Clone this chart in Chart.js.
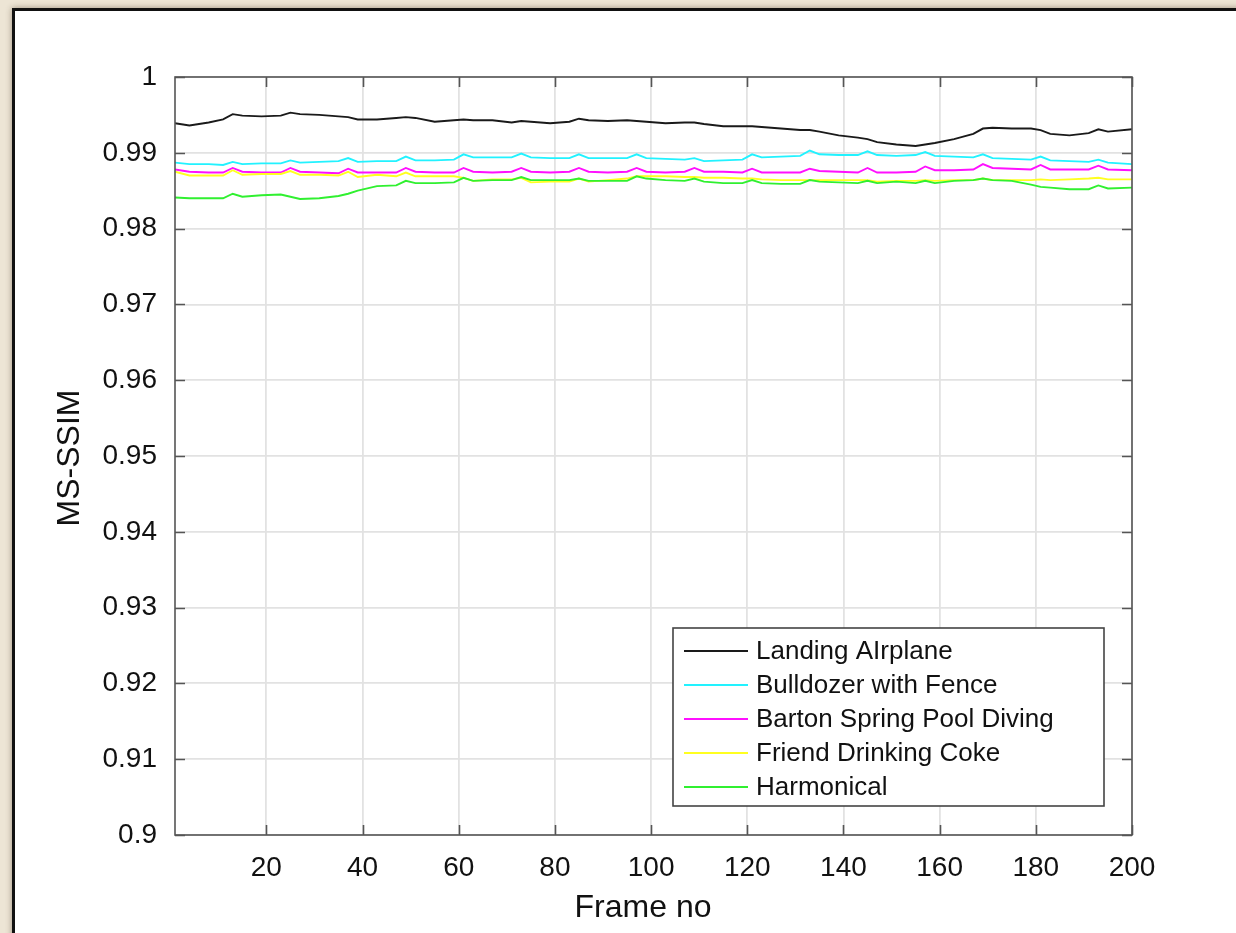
<!DOCTYPE html>
<html><head><meta charset="utf-8">
<script src="https://cdn.jsdelivr.net/npm/chart.js@4/dist/chart.umd.min.js"></script>
<style>
html,body{margin:0;padding:0;width:1236px;height:933px;overflow:hidden;background:#ede5d5}
#card{position:absolute;left:12px;top:8px;width:1250px;height:960px;background:#fff;border:3px solid #111;box-shadow:0 0 6px rgba(60,40,20,.45)}
#wrap{position:absolute;left:0;top:0;width:1236px;height:933px}
</style></head>
<body>
<div id="card"></div>
<div id="wrap"><canvas id="c" width="1236" height="933"></canvas></div>
<script>
const frames = [1,4,8,11,13,15,19,23,25,27,31,35,37,39,43,47,49,51,55,59,61,63,67,71,73,75,79,83,85,87,91,95,97,99,103,107,109,111,115,119,121,123,127,131,133,135,139,143,145,147,151,155,157,159,163,167,169,171,175,179,181,183,187,191,193,195,200];

const landingAirplane = [0.9939,0.9936,0.9940,0.9944,0.9951,0.9949,0.9948,0.9949,0.9953,0.9951,0.9950,0.9948,0.9947,0.9944,0.9944,0.9946,0.9947,0.9946,0.9941,0.9943,0.9944,0.9943,0.9943,0.9940,0.9942,0.9941,0.9939,0.9941,0.9945,0.9943,0.9942,0.9943,0.9942,0.9941,0.9939,0.9940,0.9940,0.9938,0.9935,0.9935,0.9935,0.9934,0.9932,0.9930,0.9930,0.9928,0.9923,0.9920,0.9918,0.9914,0.9911,0.9909,0.9911,0.9913,0.9918,0.9925,0.9932,0.9933,0.9932,0.9932,0.9930,0.9925,0.9923,0.9926,0.9931,0.9928,0.9931];

const bulldozer = [0.9887,0.9885,0.9885,0.9884,0.9888,0.9885,0.9886,0.9886,0.9890,0.9887,0.9888,0.9889,0.9893,0.9888,0.9889,0.9889,0.9895,0.9890,0.9890,0.9891,0.9898,0.9894,0.9894,0.9894,0.9899,0.9894,0.9893,0.9893,0.9898,0.9893,0.9893,0.9893,0.9898,0.9893,0.9892,0.9891,0.9893,0.9889,0.9890,0.9891,0.9898,0.9894,0.9895,0.9896,0.9903,0.9898,0.9897,0.9897,0.9902,0.9897,0.9896,0.9897,0.9901,0.9896,0.9895,0.9894,0.9898,0.9893,0.9892,0.9891,0.9895,0.9890,0.9889,0.9888,0.9891,0.9887,0.9885];

const bartonSpring = [0.9878,0.9875,0.9874,0.9874,0.9880,0.9875,0.9874,0.9874,0.9880,0.9875,0.9874,0.9873,0.9879,0.9874,0.9874,0.9874,0.9880,0.9875,0.9874,0.9874,0.9880,0.9875,0.9874,0.9875,0.9880,0.9875,0.9874,0.9875,0.9880,0.9875,0.9874,0.9875,0.9880,0.9875,0.9874,0.9875,0.9880,0.9875,0.9875,0.9874,0.9879,0.9874,0.9874,0.9874,0.9879,0.9876,0.9875,0.9874,0.9880,0.9874,0.9874,0.9875,0.9882,0.9877,0.9877,0.9878,0.9885,0.9880,0.9879,0.9878,0.9884,0.9878,0.9878,0.9878,0.9883,0.9878,0.9877];

const friendCoke = [0.9875,0.9870,0.9870,0.9870,0.9877,0.9871,0.9872,0.9872,0.9876,0.9871,0.9871,0.9870,0.9875,0.9868,0.9871,0.9869,0.9874,0.9869,0.9869,0.9869,0.9867,0.9863,0.9865,0.9865,0.9867,0.9861,0.9862,0.9862,0.9866,0.9862,0.9864,0.9866,0.9869,0.9869,0.9869,0.9868,0.9868,0.9867,0.9867,0.9866,0.9866,0.9865,0.9864,0.9864,0.9864,0.9864,0.9864,0.9864,0.9864,0.9862,0.9863,0.9863,0.9864,0.9863,0.9864,0.9864,0.9866,0.9864,0.9864,0.9864,0.9865,0.9864,0.9865,0.9866,0.9867,0.9865,0.9865];

const harmonical = [0.9841,0.9840,0.9840,0.9840,0.9846,0.9842,0.9844,0.9845,0.9842,0.9839,0.9840,0.9843,0.9846,0.9850,0.9856,0.9857,0.9863,0.9860,0.9860,0.9861,0.9867,0.9863,0.9864,0.9864,0.9868,0.9864,0.9864,0.9864,0.9866,0.9863,0.9863,0.9863,0.9869,0.9866,0.9864,0.9863,0.9866,0.9862,0.9860,0.9860,0.9864,0.9860,0.9859,0.9859,0.9864,0.9862,0.9861,0.9860,0.9863,0.9860,0.9862,0.9860,0.9863,0.9860,0.9863,0.9864,0.9866,0.9864,0.9863,0.9858,0.9855,0.9854,0.9852,0.9852,0.9857,0.9853,0.9854];

const seriesNames = ['Landing AIrplane','Bulldozer with Fence','Barton Spring Pool Diving','Friend Drinking Coke','Harmonical'];
const xTicks = [20,40,60,80,100,120,140,160,180,200];
const yTicks = [0.9,0.91,0.92,0.93,0.94,0.95,0.96,0.97,0.98,0.99,1];
const yTickLabels = ['0.9','0.91','0.92','0.93','0.94','0.95','0.96','0.97','0.98','0.99','1'];
const xTitle = 'Frame no';
const yTitle = 'MS-SSIM';

const seriesValues = [landingAirplane, bulldozer, bartonSpring, friendCoke, harmonical];
const seriesColors = ['#1a1a1a','#22f2ff','#ff10ff','#ffff20','#30f030'];

const FONT = "'Liberation Sans', Arial, Helvetica, sans-serif";

const boxPlugin = {
  id: 'boxPlugin',
  afterDraw(chart) {
    const {ctx, chartArea: a, scales} = chart;
    ctx.save();
    ctx.strokeStyle = '#555';
    ctx.lineWidth = 1.6;
    const tl = 10;
    ctx.beginPath();
    xTicks.forEach(v => {
      const px = Math.round(scales.x.getPixelForValue(v)) + 0.5;
      ctx.moveTo(px, a.bottom); ctx.lineTo(px, a.bottom - tl);
      ctx.moveTo(px, a.top); ctx.lineTo(px, a.top + tl);
    });
    yTicks.forEach(v => {
      const py = Math.round(scales.y.getPixelForValue(v)) + 0.5;
      ctx.moveTo(a.left, py); ctx.lineTo(a.left + tl, py);
      ctx.moveTo(a.right, py); ctx.lineTo(a.right - tl, py);
    });
    ctx.stroke();
    ctx.strokeRect(a.left, a.top, a.right - a.left, a.bottom - a.top);

    // axis titles
    ctx.fillStyle = '#111';
    ctx.font = '32px ' + FONT;
    ctx.textAlign = 'center';
    ctx.textBaseline = 'middle';
    ctx.fillText(xTitle, 643, 908);
    ctx.save();
    ctx.translate(70, 458);
    ctx.rotate(-Math.PI / 2);
    ctx.fillText(yTitle, 0, 0);
    ctx.restore();

    // legend inside plot
    const lx = 673, ly = 628, lw = 431, lh = 178;
    ctx.fillStyle = '#fff';
    ctx.fillRect(lx, ly, lw, lh);
    ctx.strokeStyle = '#444';
    ctx.lineWidth = 1.6;
    ctx.strokeRect(lx, ly, lw, lh);
    ctx.font = '26px ' + FONT;
    ctx.textBaseline = 'middle';
    ctx.textAlign = 'left';
    chart.data.datasets.forEach((ds, i) => {
      const cy = 651 + i * 34;
      ctx.strokeStyle = ds.borderColor;
      ctx.lineWidth = 1.8;
      ctx.beginPath();
      ctx.moveTo(684, cy); ctx.lineTo(748, cy);
      ctx.stroke();
      ctx.fillStyle = '#111';
      ctx.fillText(ds.label, 756, cy + 1);
    });
    ctx.restore();
  }
};

new Chart(document.getElementById('c'), {
  type: 'line',
  data: {
    datasets: seriesNames.map((name, i) => ({
      label: name,
      data: frames.map((f, j) => ({x: f, y: seriesValues[i][j]})),
      borderColor: seriesColors[i],
      backgroundColor: seriesColors[i],
      borderWidth: 1.9,
      pointRadius: 0,
      tension: 0,
      fill: false,
      order: seriesNames.length - i
    }))
  },
  options: {
    responsive: false,
    animation: false,
    devicePixelRatio: 1,
    layout: {padding: {left: 0, top: 77, right: 104, bottom: 0}},
    plugins: {legend: {display: false}, tooltip: {enabled: false}},
    scales: {
      x: {
        type: 'linear', min: 1, max: 200,
        afterBuildTicks: s => { s.ticks = xTicks.map(v => ({value: v})); },
        afterFit: s => { s.height = 98; },
        grid: {color: '#e2e2e2', lineWidth: 1.8, drawTicks: false},
        border: {display: false},
        ticks: {font: {size: 28, family: FONT}, color: '#111', padding: 16, maxRotation: 0, autoSkip: false},
        title: {display: false}
      },
      y: {
        type: 'linear', min: 0.9, max: 1,
        afterBuildTicks: s => { s.ticks = yTicks.map(v => ({value: v})); },
        afterFit: s => { s.width = 175; },
        grid: {color: '#e2e2e2', lineWidth: 1.8, drawTicks: false},
        border: {display: false},
        ticks: {font: {size: 28, family: FONT}, color: '#111', padding: 18, autoSkip: false,
          callback: (v, i) => yTickLabels[i]},
        title: {display: false}
      }
    }
  },
  plugins: [boxPlugin]
});
</script>
</body></html>
